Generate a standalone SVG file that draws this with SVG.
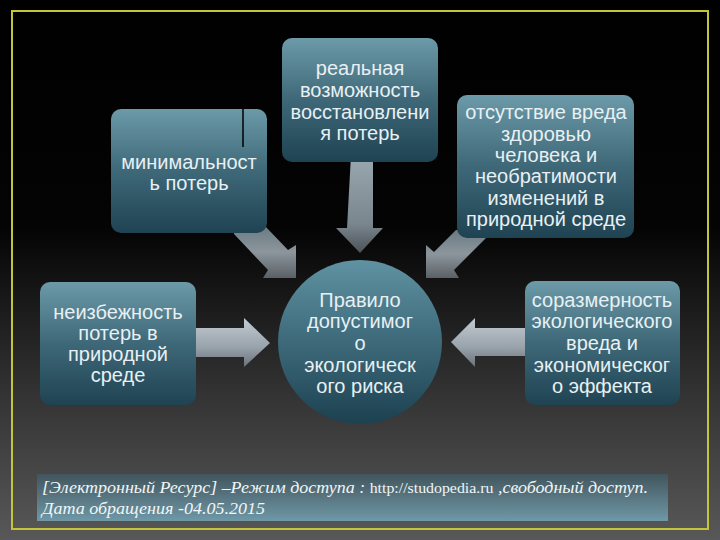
<svg xmlns="http://www.w3.org/2000/svg" width="720" height="540" viewBox="0 0 720 540">
<defs>
<linearGradient id="bg" x1="0" y1="0" x2="0" y2="1">
<stop offset="0" stop-color="#000"/><stop offset="0.42" stop-color="#040404"/><stop offset="0.75" stop-color="#363636"/><stop offset="1" stop-color="#585858"/>
</linearGradient>
<linearGradient id="box" x1="0" y1="0" x2="0" y2="1">
<stop offset="0" stop-color="#6c9aa8"/><stop offset="0.5" stop-color="#3e6878"/><stop offset="1" stop-color="#1f4352"/>
</linearGradient>
<linearGradient id="ell" x1="0" y1="0" x2="0" y2="1">
<stop offset="0" stop-color="#5f92a2"/><stop offset="0.55" stop-color="#3a6676"/><stop offset="1" stop-color="#1c4150"/>
</linearGradient>
<linearGradient id="cap" x1="0" y1="0" x2="0" y2="1">
<stop offset="0" stop-color="#41555d"/><stop offset="1" stop-color="#6f98a6"/>
</linearGradient>
<linearGradient id="arH" x1="0" y1="0" x2="0" y2="1">
<stop offset="0" stop-color="#c4ccd2"/><stop offset="0.6" stop-color="#98a2aa"/><stop offset="1" stop-color="#6a727a"/>
</linearGradient>
<linearGradient id="arV" x1="0" y1="0" x2="0" y2="1">
<stop offset="0" stop-color="#9aa8b0"/><stop offset="0.7" stop-color="#7a868e"/><stop offset="1" stop-color="#4c5258"/>
</linearGradient>
<linearGradient id="arD" x1="0" y1="0" x2="0" y2="1">
<stop offset="0" stop-color="#6a7a82"/><stop offset="0.5" stop-color="#8c969c"/><stop offset="1" stop-color="#5a6066"/>
</linearGradient>
</defs>
<style>
.bx{fill:url(#box);}
.t{font-family:"Liberation Sans",Arial,sans-serif;font-size:20px;fill:#e8f0f4;text-anchor:middle;}
.c{font-family:"Liberation Serif","Times New Roman",serif;font-size:17px;fill:#f2f6f8;font-style:italic;}
</style>
<rect width="720" height="540" fill="url(#bg)"/>
<rect x="12" y="11" width="696" height="518" fill="none" stroke="#c4c43a" stroke-width="2"/>

<g id="connectors">
<path d="M351,155 L373,155 L373,228 L383,228 L360,253 L336,228 L347,228 Z" fill="url(#arV)"/>
<path d="M234,226 L265,226 L288,250 L296,245 L296,278 L263,278 L268,270 L234,234 Z" fill="url(#arD)"/>
<path d="M486,230 L456,230 L434,252 L426,245 L426,278 L459,278 L454,270 L490,234 Z" fill="url(#arD)"/>
<path d="M190,328 L244,328 L244,318 L270,343 L244,367 L244,357 L190,357 Z" fill="url(#arH)"/>
<path d="M530,328 L475,328 L475,318 L451,342 L475,367 L475,356 L530,356 Z" fill="url(#arH)"/>
</g>

<g id="n-min">
<rect class="bx" x="111" y="109" width="156" height="124" rx="10"/>
<line x1="243" y1="109" x2="243" y2="147" stroke="#000" stroke-width="1.5"/>
<text class="t" x="189" y="169">минимальност</text>
<text class="t" x="189" y="190">ь потерь</text>
</g>

<g id="n-real">
<rect class="bx" x="282" y="38" width="156" height="124" rx="10"/>
<text class="t" x="360" y="75">реальная</text>
<text class="t" x="360" y="97">возможность</text>
<text class="t" x="360" y="119">восстановлени</text>
<text class="t" x="360" y="140">я потерь</text>
</g>

<g id="n-harm">
<rect class="bx" x="457" y="95" width="177" height="143" rx="10"/>
<text class="t" x="546" y="119">отсутствие вреда</text>
<text class="t" x="546" y="141">здоровью</text>
<text class="t" x="546" y="162">человека и</text>
<text class="t" x="546" y="183">необратимости</text>
<text class="t" x="546" y="205">изменений в</text>
<text class="t" x="546" y="226">природной среде</text>
</g>

<g id="n-loss">
<rect class="bx" x="40" y="282" width="156" height="123" rx="10"/>
<text class="t" x="118" y="319">неизбежность</text>
<text class="t" x="118" y="340">потерь в</text>
<text class="t" x="118" y="361">природной</text>
<text class="t" x="118" y="382">среде</text>
</g>

<g id="n-rule">
<ellipse cx="360" cy="342" rx="82" ry="82" fill="url(#ell)"/>
<text class="t" x="360" y="307">Правило</text>
<text class="t" x="360" y="328">допустимог</text>
<text class="t" x="360" y="350">о</text>
<text class="t" x="360" y="372">экологическ</text>
<text class="t" x="360" y="393">ого риска</text>
</g>

<g id="n-prop">
<rect class="bx" x="525" y="281" width="155" height="124" rx="10"/>
<text class="t" x="602" y="307">соразмерность</text>
<text class="t" x="602" y="328">экологического</text>
<text class="t" x="602" y="350">вреда и</text>
<text class="t" x="602" y="372">экономическог</text>
<text class="t" x="602" y="393">о эффекта</text>
</g>

<g id="caption">
<rect x="37" y="474" width="631" height="47" fill="url(#cap)"/>
<text class="c" x="42" y="493" textLength="606" lengthAdjust="spacingAndGlyphs">[Электронный Ресурс] –Режим доступа : <tspan font-style="normal" font-size="15">http://studopedia.ru</tspan> ,свободный доступ.</text>
<text class="c" x="42" y="514" textLength="223" lengthAdjust="spacingAndGlyphs">Дата обращения -04.05.2015</text>
</g>
</svg>
